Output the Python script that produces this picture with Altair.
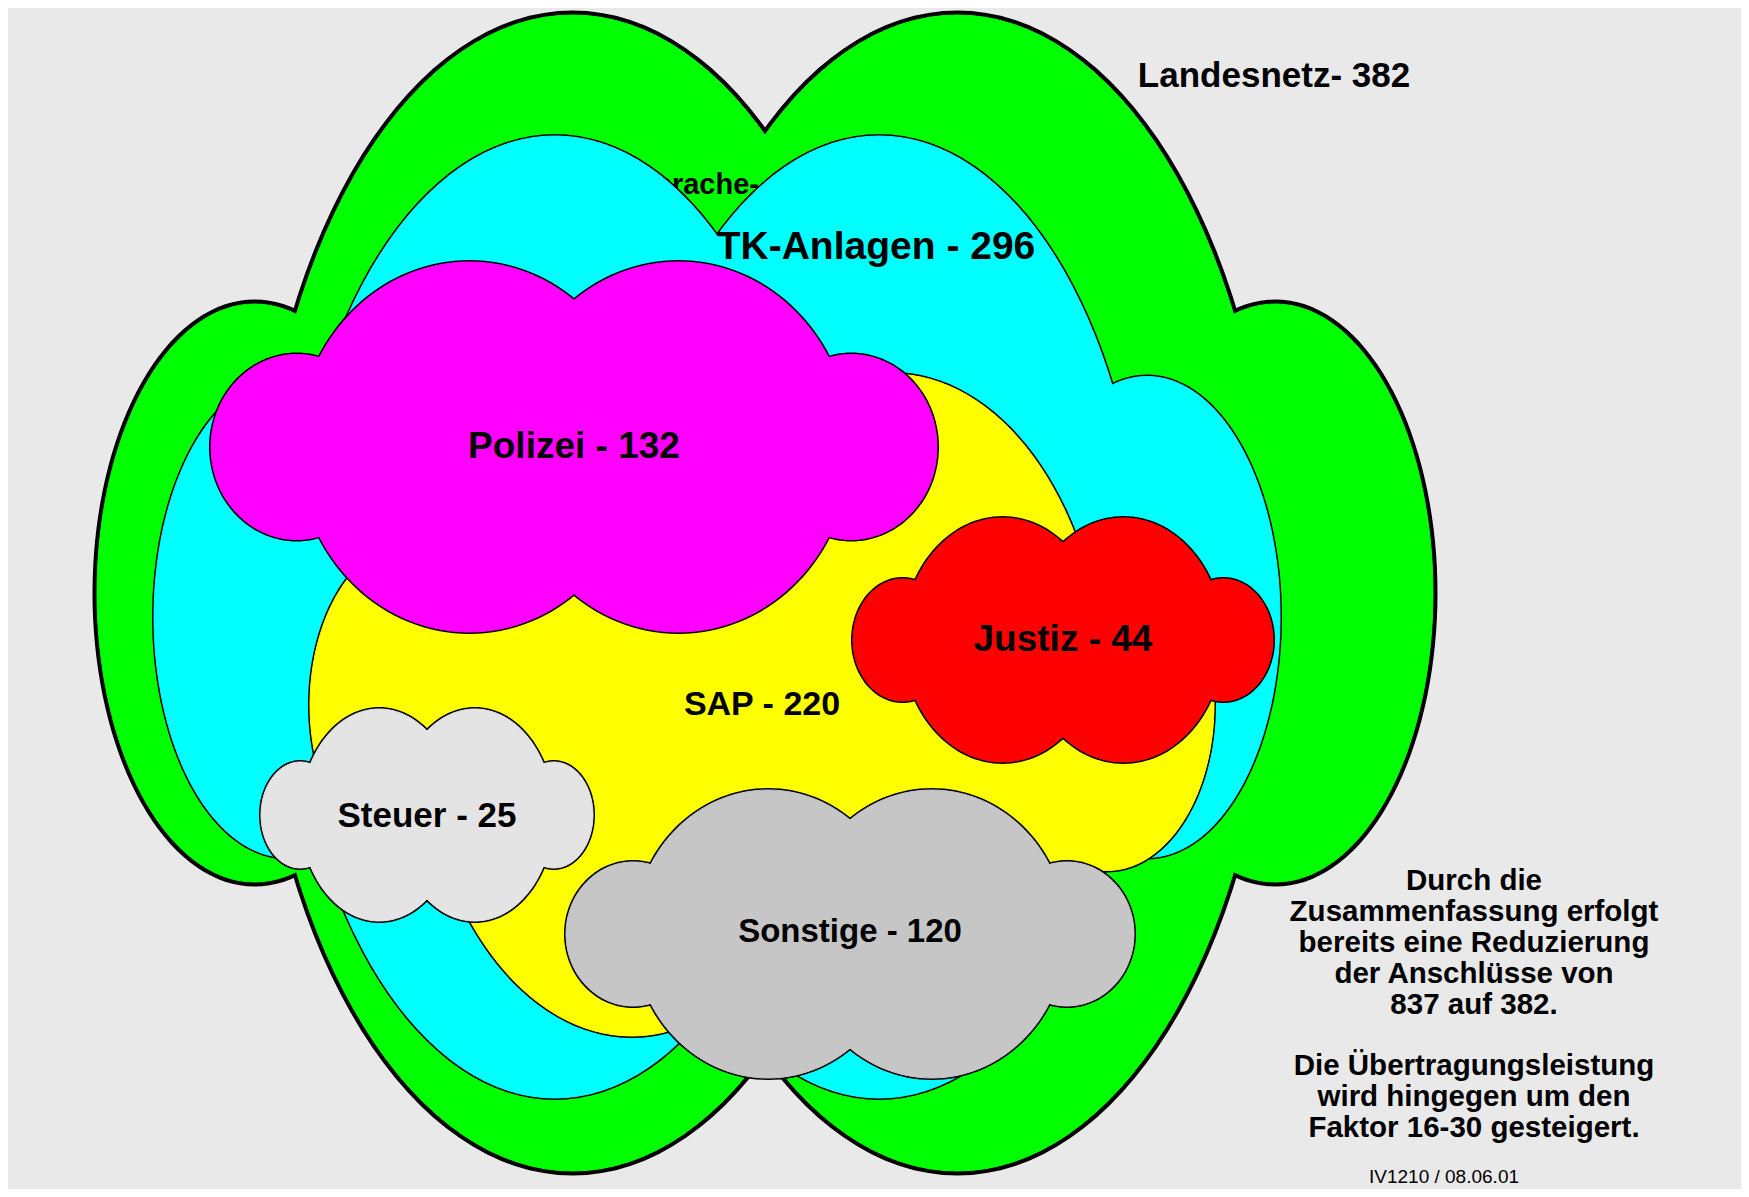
import altair as alt
import numpy as np
import pandas as pd

# ---- chart content ----
names = ["Landesnetz", "TK-Anlagen", "SAP", "Polizei", "Justiz", "Steuer", "Sonstige"]
counts = [382, 296, 220, 132, 44, 25, 120]
fills = ["#00ff00", "#00ffff", "#ffff00", "#ff00ff", "#ff0000", "#e4e4e4", "#c6c6c6"]
note_lines_1 = [
    "Durch die",
    "Zusammenfassung erfolgt",
    "bereits eine Reduzierung",
    "der Anschlüsse von",
    "837 auf 382.",
]
note_lines_2 = [
    "Die Übertragungsleistung",
    "wird hingegen um den",
    "Faktor 16-30 gesteigert.",
]
footer = "IV1210 / 08.06.01"
hidden_label = "Sprache-"

# ---- layout (page pixels) ----
cloud_cx = [765, 717, 762, 574, 1063, 427, 850]
cloud_cy = [593, 617, 705, 447, 640, 815, 934]
cloud_hw = [668, 563, 452, 363, 210, 166, 284]
cloud_hh = [578, 481, 331, 185, 122, 106, 144]
outline_w = [9, 4, 4, 4, 4, 4, 4]
label_x = [1274, 876, 762, 574, 1063, 427, 850]
label_y = [87, 259, 715, 458, 651, 827, 942]
label_fs = [35, 39, 34, 37, 37, 35, 33]

W, H = 1733, 1181
M = 8
BG = "#e9e9e9"

LOBES = [(-0.288, 0.472, 1.0), (0.288, 0.472, 1.0), (-0.764, 0.236, 0.5), (0.764, 0.236, 0.5)]


def ellipse(x0, y0, rx, ry, n=140):
    t = np.linspace(0, 2 * np.pi, n + 1)
    pts = [[float(x0 + rx * np.cos(a)), float(y0 + ry * np.sin(a))] for a in t]
    pts[-1] = pts[0]
    return {"type": "Feature", "properties": {},
            "geometry": {"type": "Polygon", "coordinates": [pts]}}


def cloud(i):
    return [ellipse(cloud_cx[i] + du * cloud_hw[i], cloud_cy[i],
                    fw * cloud_hw[i], fh * cloud_hh[i]) for du, fw, fh in LOBES]


proj = dict(type="identity", scale=1, translate=[-M, -M])

frame = {"type": "Feature", "properties": {},
         "geometry": {"type": "Polygon", "coordinates": [[[M, M], [M + W, M], [M + W, M + H], [M, M + H], [M, M]]]}}

layers = [alt.Chart(alt.Data(values=[frame])).mark_geoshape(fill=BG, stroke=BG, strokeWidth=0).project(**proj)]


def cloud_layers(i):
    feats = cloud(i)
    s = alt.Chart(alt.Data(values=feats)).mark_geoshape(
        fill=fills[i], stroke="black", strokeWidth=outline_w[i]).project(**proj)
    f = alt.Chart(alt.Data(values=feats)).mark_geoshape(
        fill=fills[i], stroke=fills[i], strokeWidth=1).project(**proj)
    return [s, f]


layers += cloud_layers(0)

hid = pd.DataFrame({"x": [759], "y": [194], "label": [hidden_label]})
layers.append(
    alt.Chart(hid).mark_text(font="Liberation Sans", fontWeight="bold", fontSize=29,
                             align="right", baseline="alphabetic", color="black")
    .encode(longitude="x:Q", latitude="y:Q", text="label:N").project(**proj)
)

for i in range(1, len(names)):
    layers += cloud_layers(i)

labels = [f"{n}- {c}" if n == "Landesnetz" else f"{n} - {c}" for n, c in zip(names, counts)]
lab = pd.DataFrame({"x": label_x, "y": label_y, "label": labels, "fs": label_fs})
layers.append(
    alt.Chart(lab).mark_text(font="Liberation Sans", fontWeight="bold",
                             align="center", baseline="alphabetic", color="black")
    .encode(longitude="x:Q", latitude="y:Q", text="label:N",
            size=alt.Size("fs:Q", scale=None, legend=None)).project(**proj)
)

for lines, y0 in [(note_lines_1, 890), (note_lines_2, 1075)]:
    nd = pd.DataFrame({"x": [1474], "y": [y0]})
    layers.append(
        alt.Chart(nd).mark_text(text=lines, font="Liberation Sans", fontWeight="bold",
                                fontSize=29.5, lineHeight=31, align="center",
                                baseline="alphabetic", color="black")
        .encode(longitude="x:Q", latitude="y:Q").project(**proj)
    )

foot = pd.DataFrame({"x": [1444], "y": [1183], "label": [footer]})
layers.append(
    alt.Chart(foot).mark_text(font="Liberation Sans", fontSize=19, align="center",
                              baseline="alphabetic", color="black")
    .encode(longitude="x:Q", latitude="y:Q", text="label:N").project(**proj)
)

chart = alt.layer(*layers).properties(
    width=W, height=H, padding=0,
    autosize=alt.AutoSizeParams(type="none"),
    background="white",
).configure_view(stroke=None)

chart.save("out.html", embed_options={"renderer": "svg", "actions": False})
